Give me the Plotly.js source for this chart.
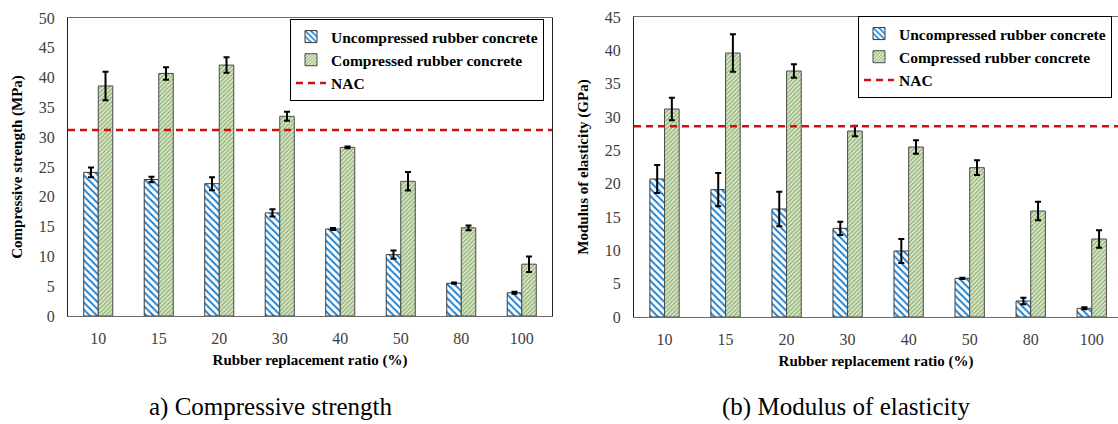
<!DOCTYPE html>
<html>
<head>
<meta charset="utf-8">
<script src="https://cdn.plot.ly/plotly-3.0.1.min.js"></script>
<style>
  html, body { margin: 0; padding: 0; background: #fff; }
  #chart { width: 1118px; height: 424px; }
</style>
</head>
<body>
<div id="chart"></div>
<script>
// Rubber replacement ratio categories (%)
const ratios = ['10', '15', '20', '30', '40', '50', '80', '100'];

// (a) Compressive strength, MPa
const strengthUncompressed = [24.1, 22.9, 22.2, 17.3, 14.6, 10.3, 5.5, 3.9];
const strengthUncompressedErr = [0.8, 0.45, 1.1, 0.6, 0.15, 0.7, 0.1, 0.15];
const strengthCompressed = [38.6, 40.7, 42.1, 33.5, 28.3, 22.6, 14.8, 8.7];
const strengthCompressedErr = [2.4, 1.05, 1.3, 0.75, 0.15, 1.55, 0.4, 1.3];
const strengthNAC = 31.2;

// (b) Modulus of elasticity, GPa
const modulusUncompressed = [20.7, 19.1, 16.2, 13.3, 9.9, 5.8, 2.4, 1.3];
const modulusUncompressedErr = [2.1, 2.5, 2.6, 1.0, 1.8, 0.1, 0.5, 0.15];
const modulusCompressed = [31.2, 39.6, 36.9, 27.9, 25.5, 22.4, 15.9, 11.7];
const modulusCompressedErr = [1.7, 2.8, 1.0, 0.8, 1.0, 1.1, 1.4, 1.3];
const modulusNAC = 28.6;

const seriesNames = ['Uncompressed rubber concrete', 'Compressed rubber concrete', 'NAC'];

const SERIF = '"Liberation Serif", serif';
const W = 1118, H = 424;
const px = v => v / W;
const py = v => 1 - v / H;

const uncompressedMarker = {
  color: '#ffffff',
  line: { color: '#3a3a3a', width: 1 },
  pattern: { shape: '\\', fgcolor: '#1a7fd0', bgcolor: '#ffffff', size: 5, solidity: 0.38, fillmode: 'replace' }
};
const compressedMarker = {
  color: '#d5e6c2',
  line: { color: '#4a4a4a', width: 1 },
  pattern: { shape: '/', fgcolor: '#86a56c', bgcolor: '#d8e8c6', size: 3, solidity: 0.35, fillmode: 'replace' }
};
const errStyle = arr => ({ type: 'data', array: arr, visible: true, color: '#000', thickness: 2, width: 3 });

function barTrace(name, y, err, marker, xa, ya, legend) {
  return {
    type: 'bar', name: name, x: ratios, y: y,
    error_y: errStyle(err), marker: marker,
    xaxis: xa, yaxis: ya, legend: legend, showlegend: true,
    offsetgroup: name
  };
}

const data = [
  barTrace(seriesNames[0], strengthUncompressed, strengthUncompressedErr, uncompressedMarker, 'x', 'y', 'legend'),
  barTrace(seriesNames[1], strengthCompressed, strengthCompressedErr, compressedMarker, 'x', 'y', 'legend'),
  barTrace(seriesNames[0], modulusUncompressed, modulusUncompressedErr, uncompressedMarker, 'x2', 'y2', 'legend2'),
  barTrace(seriesNames[1], modulusCompressed, modulusCompressedErr, compressedMarker, 'x2', 'y2', 'legend2')
];

const tickFont = { family: SERIF, size: 16, color: '#404040' };
const axisTitleFont = { family: SERIF, size: 15, color: '#000', weight: 'bold' };
const legendFont = { family: SERIF, size: 15.5, color: '#000', weight: 'bold' };

function xAxis(domain, range) {
  return {
    domain: domain, type: 'category', range: range,
    showline: true, linecolor: '#6a6a6a', linewidth: 1, mirror: true,
    ticks: '', showgrid: false, zeroline: false,
    tickfont: tickFont, ticklabelstandoff: 8,
    title: { text: 'Rubber replacement ratio (%)', font: axisTitleFont, standoff: 8 }
  };
}
function yAxis(domain, anchor, maxVal, titleText, mirror) {
  return {
    domain: domain, anchor: anchor, range: [0, maxVal], dtick: 5, tick0: 0,
    showline: true, linecolor: '#222', linewidth: 1, mirror: mirror,
    ticks: '', showgrid: false, zeroline: false,
    tickfont: tickFont, ticklabelstandoff: 9,
    title: { text: titleText, font: axisTitleFont, standoff: 12 }
  };
}

function nacLine(value, xref, yref, legend) {
  return {
    type: 'line', xref: xref + ' domain', yref: yref,
    x0: 0, x1: 1, y0: value, y1: value,
    line: { color: '#d01010', width: 2.5, dash: '7px,5px' },
    showlegend: true, name: seriesNames[2], legend: legend, layer: 'above'
  };
}

const layout = {
  width: W, height: H,
  margin: { l: 0, r: 0, t: 0, b: 0 },
  paper_bgcolor: '#fff', plot_bgcolor: '#fff',
  barmode: 'group', bargap: 0.52, bargroupgap: 0,
  font: { family: SERIF },
  xaxis: Object.assign(xAxis([px(68), px(552)], [-0.5, 7.5]), { anchor: 'y' }),
  yaxis: yAxis([1 - 316 / H, 1 - 18 / H], 'x', 50, 'Compressive strength (MPa)', true),
  xaxis2: Object.assign(xAxis([px(634), 1], [-0.5, 7.43]), { anchor: 'y2' }),
  yaxis2: yAxis([1 - 317 / H, 1 - 17 / H], 'x2', 45, 'Modulus of elasticity (GPa)', false),
  shapes: [
    nacLine(strengthNAC, 'x', 'y', 'legend'),
    nacLine(modulusNAC, 'x2', 'y2', 'legend2')
  ],
  legend: {
    x: px(290), y: py(19), xanchor: 'left', yanchor: 'top',
    bgcolor: '#fff', bordercolor: '#000', borderwidth: 1,
    font: legendFont, tracegroupgap: 0, itemwidth: 30, traceorder: 'normal'
  },
  legend2: {
    x: px(858), y: py(16), xanchor: 'left', yanchor: 'top',
    bgcolor: '#fff', bordercolor: '#000', borderwidth: 1,
    font: legendFont, tracegroupgap: 0, itemwidth: 30, traceorder: 'normal'
  },
  annotations: [
    { text: 'a) Compressive strength', xref: 'paper', yref: 'paper', x: px(271), y: py(407),
      xanchor: 'center', yanchor: 'middle', showarrow: false,
      font: { family: SERIF, size: 25, color: '#000' } },
    { text: '(b) Modulus of elasticity', xref: 'paper', yref: 'paper', x: px(846), y: py(407),
      xanchor: 'center', yanchor: 'middle', showarrow: false,
      font: { family: SERIF, size: 25, color: '#000' } }
  ]
};

Plotly.newPlot('chart', data, layout, { staticPlot: true, displayModeBar: false });
</script>
</body>
</html>
